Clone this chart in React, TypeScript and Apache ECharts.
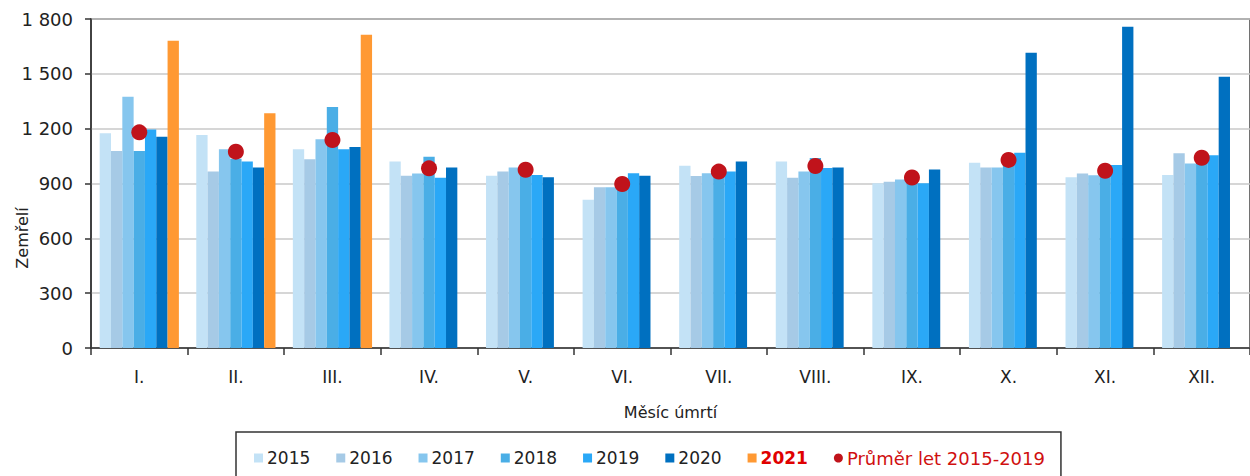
import React, { useEffect, useRef } from "react";
import * as echarts from "echarts";

const months = ["I.", "II.", "III.", "IV.", "V.", "VI.", "VII.", "VIII.", "IX.", "X.", "XI.", "XII."];
const y2015 = [1175, 1165, 1087, 1021, 943, 811, 997, 1020, 901, 1013, 934, 946];
const y2016 = [1078, 965, 1032, 943, 965, 879, 941, 932, 910, 988, 955, 1065];
const y2017 = [1375, 1088, 1142, 955, 988, 880, 956, 965, 922, 988, 945, 1010];
const y2018 = [1078, 1035, 1318, 1047, 990, 925, 950, 1040, 935, 1060, 990, 1060];
const y2019 = [1196, 1021, 1087, 932, 946, 956, 965, 985, 901, 1068, 1001, 1054];
const y2020 = [1156, 988, 1100, 988, 934, 943, 1020, 987, 977, 1616, 1758, 1484];
const y2021 = [1681, 1284, 1714, null, null, null, null, null, null, null, null, null];
const avg1519 = [1180, 1074, 1138, 983, 975, 897, 965, 996, 933, 1029, 970, 1041];

const barNames = ["2015", "2016", "2017", "2018", "2019", "2020", "2021"];
const barData = [y2015, y2016, y2017, y2018, y2019, y2020, y2021];
const barColors = ["#c3e2f6", "#a6cae6", "#86c6ee", "#4aaee6", "#2aa8f7", "#0070c0", "#ff9933"];
const avgName = "Průměr let 2015-2019";

const FONT = "DejaVu Sans";

export default function App() {
  const ref = useRef<HTMLDivElement>(null);
  useEffect(() => {
    if (!ref.current) return;
    const chart = echarts.init(ref.current, null, { renderer: "svg" });
    const series: any[] = barNames.map((n, i) => ({
      name: n,
      type: "bar",
      data: barData[i],
      barGap: "0%",
      barCategoryGap: "18%",
      itemStyle: { color: barColors[i] },
    }));
    series.push({
      name: avgName,
      type: "scatter",
      data: avg1519,
      symbol: "circle",
      symbolSize: 16,
      itemStyle: { color: "#c0131b", opacity: 1 },
      z: 5,
    });
    chart.setOption({
      animation: false,
      grid: {
        left: 91,
        top: 19,
        width: 1171,
        bottom: 128,
        show: true,
        borderColor: "#444",
        borderWidth: 1.5,
      },
      xAxis: {
        type: "category",
        data: months,
        name: "Měsíc úmrtí",
        nameLocation: "middle",
        nameGap: 56,
        nameTextStyle: { fontFamily: FONT, fontSize: 16, color: "#222" },
        axisLine: { lineStyle: { color: "#333", width: 1.5 } },
        axisTick: { show: true, length: 7, lineStyle: { color: "#333", width: 1.5 } },
        axisLabel: { fontFamily: FONT, fontSize: 17, color: "#222", margin: 20 },
      },
      yAxis: {
        type: "value",
        min: 0,
        max: 1800,
        interval: 300,
        axisLine: { show: true, lineStyle: { color: "#333", width: 1.5 } },
        axisTick: { show: true, length: 6, lineStyle: { color: "#333", width: 1.5 } },
        splitLine: { lineStyle: { color: "#c8c8c8", width: 1.5 } },
        axisLabel: {
          fontFamily: FONT,
          fontSize: 18,
          color: "#222",
          margin: 18,
          formatter: (v: number) => (v >= 1000 ? Math.floor(v / 1000) + " " + String(v % 1000).padStart(3, "0") : String(v)),
        },
      },
      legend: {
        left: 236,
        top: 432,
        padding: [17, 16, 22, 18],
        itemGap: 26,
        itemWidth: 9,
        itemHeight: 9,
        borderColor: "#333",
        borderWidth: 1.5,
        textStyle: { fontFamily: FONT, fontSize: 17, color: "#222", padding: [0, 0, 0, -1] },
        data: [
          { name: "2015", icon: "rect" },
          { name: "2016", icon: "rect" },
          { name: "2017", icon: "rect" },
          { name: "2018", icon: "rect" },
          { name: "2019", icon: "rect" },
          { name: "2020", icon: "rect" },
          { name: "2021", icon: "rect", textStyle: { color: "#e00000", fontWeight: "bold" } },
          { name: avgName, icon: "circle", textStyle: { color: "#d01010", fontSize: 18 } },
        ],
      },
      graphic: [
        {
          type: "text",
          x: 22,
          y: 238,
          rotation: Math.PI / 2,
          style: {
            text: "Zemřelí",
            align: "center",
            verticalAlign: "middle",
            font: `16px "${FONT}"`,
            fill: "#222",
          },
        },
      ],
      series,
    });
    return () => chart.dispose();
  }, []);
  return <div ref={ref} style={{ position: "absolute", left: 0, top: 0, width: 1250, height: 476 }} />;
}
